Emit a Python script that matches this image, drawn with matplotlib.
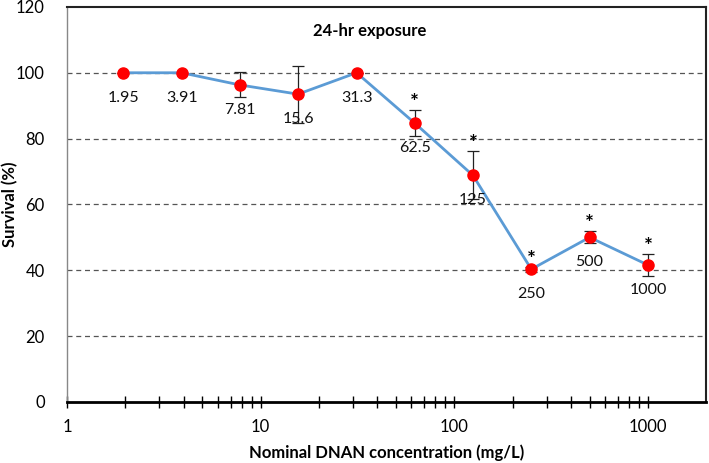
import numpy as np
import matplotlib
matplotlib.use("Agg")
import matplotlib.pyplot as plt
from matplotlib.ticker import FixedLocator, NullFormatter

plt.rcParams['font.family'] = ['Lato', 'DejaVu Sans']

# data
conc = [1.95, 3.91, 7.81, 15.6, 31.3, 62.5, 125, 250, 500, 1000]
conc_labels = ["1.95", "3.91", "7.81", "15.6", "31.3", "62.5", "125", "250", "500", "1000"]
survival = [100, 100, 96.3, 93.5, 100, 84.7, 68.8, 40.3, 50.0, 41.6]
err = [0, 0, 3.8, 8.7, 0, 4.0, 7.3, 0.8, 1.8, 3.3]
signif = [False, False, False, False, False, True, True, True, True, True]

fig = plt.figure(figsize=(7.09, 4.63), dpi=100)
ax = fig.add_axes([0.0945, 0.132, 0.9015, 0.853])

ax.set_xscale('log')
ax.set_xlim(1, 2000)
ax.set_ylim(0, 120)

for yv in [20, 40, 60, 80, 100]:
    ax.axhline(yv, color='#555555', ls=(0, (4, 3)), lw=0.9, zorder=1)

ax.errorbar(conc, survival, yerr=err, fmt='none', ecolor='#222222',
            elinewidth=0.9, capsize=4, capthick=0.9, zorder=2)
ax.plot(conc, survival, color='#5B9BD5', lw=2, zorder=3)
ax.plot(conc, survival, 'o', color='#FF0000', ms=8, mec='#FF0000', zorder=4)

for x, y, e, lab, s in zip(conc, survival, err, conc_labels, signif):
    ax.annotate(lab, (x, y), xytext=(0, -18), textcoords='offset points',
                ha='center', va='center', fontsize=11.5, color='#111111')
    if s:
        ax.annotate('*', (x, y + e), xytext=(0, 5), textcoords='offset points',
                    ha='center', va='center', fontsize=15, fontweight='bold')

ax.text(0.474, 0.94, '24-hr exposure', transform=ax.transAxes, ha='center',
        va='center', fontsize=12, fontweight='bold')

ax.set_yticks([0, 20, 40, 60, 80, 100, 120])
ax.tick_params(axis='y', length=0, labelsize=12, pad=16)
ax.set_xticks([1, 10, 100, 1000])
ax.set_xticklabels(['1', '10', '100', '1000'])
minor = [m * 10 ** d for d in range(0, 4) for m in range(2, 10) if m * 10 ** d < 2000]
ax.xaxis.set_minor_locator(FixedLocator(minor))
ax.xaxis.set_minor_formatter(NullFormatter())
ax.tick_params(axis='x', which='both', direction='inout', length=8, width=1,
               labelsize=12, pad=8)

ax.spines['bottom'].set_linewidth(2)
ax.spines['left'].set_color('#888888')
ax.spines['left'].set_linewidth(1)
for s in ['top', 'right']:
    ax.spines[s].set_color('#222222')
    ax.spines[s].set_linewidth(1.5)

ax.set_xlabel('Nominal DNAN concentration (mg/L)', fontsize=12, fontweight='bold')
ax.set_ylabel('Survival (%)', fontsize=12, fontweight='bold')
ax.xaxis.set_label_coords(0.5, -0.108)
ax.yaxis.set_label_coords(-0.076, 0.5)

fig.savefig('out.png', dpi=100)
